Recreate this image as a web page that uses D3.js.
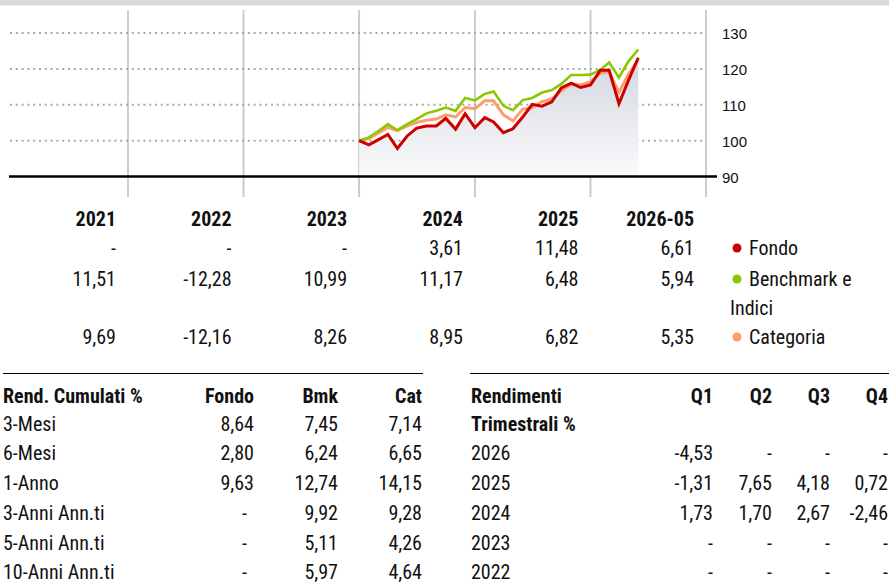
<!DOCTYPE html>
<html>
<head>
<meta charset="utf-8">
<script src="https://cdn.jsdelivr.net/npm/d3@7/dist/d3.min.js"></script>
<style>
  html, body { margin: 0; padding: 0; background: #fff; }
  svg { display: block; }
</style>
</head>
<body>
<svg id="chart" width="889" height="583"></svg>
<script>
// ---- Monthly growth of 100 (Dec 2023 -> May 2026) ----
const seriesNames = ["Fondo", "Benchmark e Indici", "Categoria"];
const fondo = [100, 98.8, 100.2, 101.7, 97.8, 101.3, 103.5, 104.1, 104.1, 106.2, 103.2, 107.5,
               103.6, 106.4, 105.2, 102.2, 103.3, 106.6, 110.1, 109.6, 110.8, 114.7, 116.0, 114.8,
               115.5, 119.6, 119.6, 110.3, 116.8, 123.1];
const benchmark = [100, 100.9, 102.6, 104.6, 102.9, 104.6, 106.0, 107.6, 108.3, 109.2, 108.3, 111.9,
                   111.2, 113.0, 113.7, 109.7, 108.5, 111.3, 111.9, 113.4, 114.1, 115.8, 118.3, 118.3,
                   118.4, 119.7, 121.8, 117.6, 122.1, 125.4];
const categoria = [100, 100.6, 102.1, 103.7, 102.8, 104.1, 105.1, 105.7, 106.0, 107.2, 106.6, 109.2,
                   108.9, 111.1, 111.1, 107.2, 105.5, 108.8, 109.2, 110.9, 111.6, 113.9, 115.8, 115.5,
                   116.4, 118.8, 119.2, 113.4, 118.6, 122.6];
const yTicks = [90, 100, 110, 120, 130];

// ---- Calendar-year returns ----
const years = ["2021", "2022", "2023", "2024", "2025", "2026-05"];
const annualFondo = [null, null, null, 3.61, 11.48, 6.61];
const annualBmk = [11.51, -12.28, 10.99, 11.17, 6.48, 5.94];
const annualCat = [9.69, -12.16, 8.26, 8.95, 6.82, 5.35];

// ---- Cumulative returns ----
const cumLabels = ["3-Mesi", "6-Mesi", "1-Anno", "3-Anni Ann.ti", "5-Anni Ann.ti", "10-Anni Ann.ti"];
const cumFondo = [8.64, 2.80, 9.63, null, null, null];
const cumBmk = [7.45, 6.24, 12.74, 9.92, 5.11, 5.97];
const cumCat = [7.14, 6.65, 14.15, 9.28, 4.26, 4.64];

// ---- Quarterly returns ----
const qYears = ["2026", "2025", "2024", "2023", "2022"];
const q1 = [-4.53, -1.31, 1.73, null, null];
const q2 = [null, 7.65, 1.70, null, null];
const q3 = [null, 4.18, 2.67, null, null];
const q4 = [null, 0.72, -2.46, null, null];

const COLORS = { fondo: "#cc0000", bmk: "#8cc800", cat: "#ff9e6d" };
const FONT = "'Liberation Sans Narrow','Roboto Condensed','DejaVu Sans Condensed','Liberation Sans',sans-serif";
const AXIS_FONT = "'Liberation Sans',Arial,sans-serif";
const FS = 20;

const locale = d3.formatLocale({ decimal: ",", thousands: ".", grouping: [3], currency: ["", "€"], minus: "-" });
const fmt = locale.format(".2f");
const show = v => (v == null ? "-" : fmt(v));

const svg = d3.select("#chart");

// top band
svg.append("rect").attr("x", 0).attr("y", 0).attr("width", 889).attr("height", 5.5).attr("fill", "#d9d9d9");

// ---- scales ----
const x = d3.scaleTime()
  .domain([new Date(2022, 0, 1), new Date(2027, 0, 1)])
  .range([128, 706]);
const y = d3.scaleLinear().domain([90, 130]).range([176.5, 33]);

const dates = fondo.map((_, i) => new Date(2024, i, 1));

// vertical year separators
const yearEnds = d3.range(2022, 2028).map(yr => new Date(yr, 0, 1));
svg.append("g").selectAll("line").data(yearEnds).join("line")
  .attr("x1", d => x(d)).attr("x2", d => x(d))
  .attr("y1", 10).attr("y2", 197)
  .attr("stroke", "#cccccc").attr("stroke-width", 2);

// dotted horizontal gridlines
svg.append("g").selectAll("line").data(yTicks.filter(t => t > 90)).join("line")
  .attr("x1", 10).attr("x2", 703)
  .attr("y1", d => y(d)).attr("y2", d => y(d))
  .attr("stroke", "#a9a9a9").attr("stroke-width", 2)
  .attr("stroke-dasharray", "2,3.8");

// area gradient under the fund line
const defs = svg.append("defs");
const grad = defs.append("linearGradient").attr("id", "areaGrad")
  .attr("gradientUnits", "userSpaceOnUse")
  .attr("x1", 0).attr("x2", 0).attr("y1", y(125)).attr("y2", y(90));
grad.append("stop").attr("offset", 0).attr("stop-color", "#d0d4de");
grad.append("stop").attr("offset", 1).attr("stop-color", "#fbfbfc");

const area = d3.area().x((d, i) => x(dates[i])).y0(y(90)).y1(d => y(d));
svg.append("path").datum(fondo).attr("d", area).attr("fill", "url(#areaGrad)");

// baseline axis at 90
svg.append("line").attr("x1", 9).attr("x2", 717)
  .attr("y1", y(90)).attr("y2", y(90))
  .attr("stroke", "#000").attr("stroke-width", 2.5);

// right axis labels
const yAxis = d3.axisRight(y).tickValues(yTicks).tickSize(0).tickPadding(0);
const gAxis = svg.append("g").attr("transform", "translate(722,1)").call(yAxis);
gAxis.select(".domain").remove();
gAxis.selectAll("text").attr("font-family", AXIS_FONT).attr("font-size", 15).attr("fill", "#111");

// lines
const line = d3.line().x((d, i) => x(dates[i])).y(d => y(d));
[[categoria, COLORS.cat, 3], [benchmark, COLORS.bmk, 2.6], [fondo, COLORS.fondo, 3]].forEach(([data, c, w]) => {
  svg.append("path").datum(data).attr("d", line)
    .attr("fill", "none").attr("stroke", c).attr("stroke-width", w)
    .attr("stroke-linejoin", "miter");
});

// ---- calendar-year table ----
const colRight = yearEnds.map(d => x(d) - 12);
const tAnn = svg.append("g").attr("font-family", FONT).attr("font-size", FS).attr("fill", "#111");
tAnn.selectAll("text.hdr").data(years).join("text").attr("class", "hdr")
  .attr("x", (d, i) => colRight[i]).attr("y", 226)
  .attr("text-anchor", "end").attr("font-weight", "bold").text(d => d);
const annRows = [[annualFondo, 254.5], [annualBmk, 285.5], [annualCat, 343.5]];
annRows.forEach(([vals, yy]) => {
  tAnn.append("g").selectAll("text").data(vals).join("text")
    .attr("x", (d, i) => colRight[i]).attr("y", yy)
    .attr("text-anchor", "end").text(show);
});

// legend
const legend = [
  { label: ["Fondo"], color: COLORS.fondo, y: 254.5 },
  { label: ["Benchmark e", "Indici"], color: COLORS.bmk, y: 285.5 },
  { label: ["Categoria"], color: COLORS.cat, y: 343.5 }
];
legend.forEach(l => {
  tAnn.append("circle").attr("cx", 737).attr("cy", l.y - 6.5).attr("r", 4.5).attr("fill", l.color);
  tAnn.append("text").attr("x", 749).attr("y", l.y).text(l.label[0]);
  if (l.label[1]) tAnn.append("text").attr("x", 730).attr("y", l.y + 29.5).text(l.label[1]);
});

// ---- cumulative returns table ----
const rowY = [431, 460, 490, 520, 550, 579];
const tCum = svg.append("g").attr("font-family", FONT).attr("font-size", FS).attr("fill", "#111");
tCum.append("line").attr("x1", 3).attr("x2", 423).attr("y1", 373.5).attr("y2", 373.5).attr("stroke", "#000").attr("stroke-width", 1.2);
tCum.append("text").attr("x", 3).attr("y", 403).attr("font-weight", "bold").text("Rend. Cumulati %");
[["Fondo", 254], ["Bmk", 338], ["Cat", 422]].forEach(([h, xr]) => {
  tCum.append("text").attr("x", xr).attr("y", 403).attr("text-anchor", "end").attr("font-weight", "bold").text(h);
});
tCum.append("g").selectAll("text").data(cumLabels).join("text")
  .attr("x", 3).attr("y", (d, i) => rowY[i]).text(d => d);
[[cumFondo, 254], [cumBmk, 338], [cumCat, 422]].forEach(([vals, xr]) => {
  tCum.append("g").selectAll("text").data(vals).join("text")
    .attr("x", d => (d == null ? xr - 7 : xr)).attr("y", (d, i) => rowY[i])
    .attr("text-anchor", "end").text(show);
});

// ---- quarterly returns table ----
const qRowY = [460, 490, 520, 550, 579];
const tQ = svg.append("g").attr("font-family", FONT).attr("font-size", FS).attr("fill", "#111");
tQ.append("line").attr("x1", 470).attr("x2", 889).attr("y1", 373.5).attr("y2", 373.5).attr("stroke", "#000").attr("stroke-width", 1.2);
tQ.append("text").attr("x", 471).attr("y", 403).attr("font-weight", "bold").text("Rendimenti");
tQ.append("text").attr("x", 471).attr("y", 431).attr("font-weight", "bold").text("Trimestrali %");
const qCols = [["Q1", q1, 713], ["Q2", q2, 772], ["Q3", q3, 830], ["Q4", q4, 888]];
qCols.forEach(([h, vals, xr]) => {
  tQ.append("text").attr("x", xr).attr("y", 403).attr("text-anchor", "end").attr("font-weight", "bold").text(h);
  tQ.append("g").selectAll("text").data(vals).join("text")
    .attr("x", xr).attr("y", (d, i) => qRowY[i])
    .attr("text-anchor", "end").text(show);
});
tQ.append("g").selectAll("text").data(qYears).join("text")
  .attr("x", 471).attr("y", (d, i) => qRowY[i]).text(d => d);
</script>
</body>
</html>
